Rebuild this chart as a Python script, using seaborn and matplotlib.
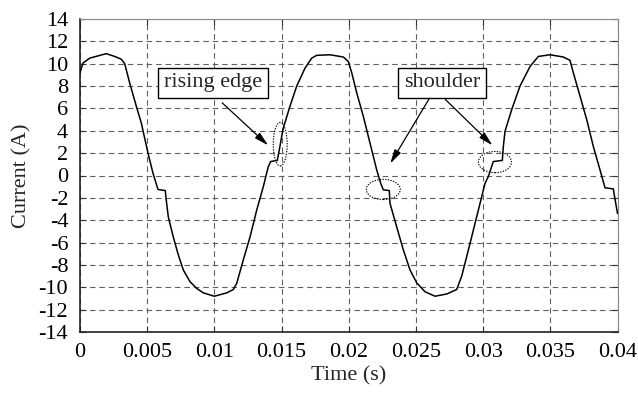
import numpy as np
import pandas as pd
import matplotlib
matplotlib.use("Agg")
import matplotlib.pyplot as plt
from matplotlib.patches import Ellipse
import seaborn as sns

# ---- data ----
time_s = [0.0, 0.000223, 0.000722, 0.00134, 0.001957, 0.002582, 0.003074,
          0.003327, 0.003699, 0.00419, 0.004562, 0.005061, 0.005433,
          0.005805, 0.006348, 0.0064, 0.006571, 0.006943, 0.007316,
          0.007688, 0.008186, 0.008685, 0.009176, 0.009995, 0.010918,
          0.011409, 0.011662, 0.012153, 0.012652, 0.01315, 0.013641,
          0.014013, 0.014192, 0.014683, 0.014832, 0.015011, 0.01513,
          0.015628, 0.016127, 0.016745, 0.017243, 0.017615, 0.018605,
          0.019595, 0.019967, 0.02022, 0.020592, 0.021083, 0.021456,
          0.02208, 0.022378, 0.022572, 0.023018, 0.023071, 0.023569,
          0.024061, 0.024559, 0.025058, 0.025676, 0.026419, 0.02729,
          0.028034, 0.028406, 0.028778, 0.02927, 0.029768, 0.030141,
          0.030386, 0.030758, 0.031428, 0.031503, 0.031629, 0.032128,
          0.032745, 0.033489, 0.034107, 0.034978, 0.035968, 0.036466,
          0.036712, 0.037211, 0.037709, 0.038201, 0.038699, 0.039071,
          0.039689, 0.039741, 0.04]
current_a = [9.2, 10.06, 10.5, 10.7, 10.9, 10.65, 10.4,
             10.0, 8.27, 6.2, 4.7, 2.0, 0.2,
             -1.25, -1.35, -2.0, -3.7, -5.5, -7.1,
             -8.45, -9.5, -10.1, -10.5, -10.8, -10.5,
             -10.2, -9.65, -7.55, -5.5, -3.1, -1.0,
             0.8, 1.25, 1.35, 2.3, 3.5, 4.25,
             6.2, 8.0, 9.6, 10.5, 10.75, 10.8,
             10.6, 10.2, 9.2, 7.4, 5.3, 3.5,
             0.5, -0.7, -1.28, -1.35, -2.5, -4.6,
             -6.65, -8.45, -9.6, -10.4, -10.8, -10.6,
             -10.2, -9.0, -7.25, -4.9, -2.5, -0.7,
             -0.1, 1.25, 1.35, 2.6, 3.95, 5.9,
             8.0, 9.75, 10.65, 10.8, 10.6, 10.3,
             9.2, 7.1, 5.0, 2.6, 0.5, -1.1,
             -1.2, -1.6, -3.4]
x_ticks = [0, 0.005, 0.01, 0.015, 0.02, 0.025, 0.03, 0.035, 0.04]
x_tick_labels = ["0", "0.005", "0.01", "0.015", "0.02", "0.025", "0.03", "0.035", "0.04"]
y_ticks = list(range(-14, 15, 2))
y_tick_labels = [str(v) for v in y_ticks]

df = pd.DataFrame({"Time (s)": time_s, "Current (A)": current_a})

sns.set_theme(style="white")
plt.rcParams["font.family"] = ["Liberation Serif", "DejaVu Serif"]
plt.rcParams["axes.unicode_minus"] = False

fig = plt.figure(figsize=(6.38, 3.94), dpi=100)
ax = fig.add_axes([80 / 638, 1 - 332 / 394, 537.5 / 638, 313 / 394])

sns.lineplot(data=df, x="Time (s)", y="Current (A)", ax=ax, color="black",
             linewidth=1.1, zorder=3)

ax.set_xlim(0, 0.04)
ax.set_ylim(-14, 14)
ax.set_xticks(x_ticks)
ax.set_xticklabels(x_tick_labels)
ax.set_yticks(y_ticks)
ax.set_yticklabels(y_tick_labels)
ax.grid(True, color="#606060", linestyle=(0, (5, 3.5)), linewidth=0.8)
ax.tick_params(direction="in", length=4, width=0.8, colors="#333333",
               labelcolor="black", labelsize=16, top=True, right=True,
               bottom=True, left=True)
ax.tick_params(axis="y", pad=8.5)
ax.tick_params(axis="x", pad=8)
for s in ["left", "bottom"]:
    ax.spines[s].set_color("#222222")
    ax.spines[s].set_linewidth(1.2)
for s in ["top", "right"]:
    ax.spines[s].set_color("#888888")
    ax.spines[s].set_linewidth(0.8)

ax.set_xlabel("Time (s)", fontsize=16, labelpad=3)
ax.set_ylabel("Current (A)", fontsize=16, labelpad=5)

# dotted ellipses
for (cx, cy, w, h) in [(0.0149, 2.8, 0.00104, 3.9),
                       (0.02257, -1.25, 0.00253, 1.8),
                       (0.03088, 1.2, 0.00246, 1.9)]:
    ax.add_patch(Ellipse((cx, cy), w, h, fill=False, edgecolor="black",
                         linestyle=(0, (1.2, 1.2)), linewidth=0.8, zorder=4))

bbox = dict(boxstyle="square,pad=0.25", facecolor="white", edgecolor="black",
            linewidth=1.0)
arrow = dict(arrowstyle="-|>,head_length=0.7,head_width=0.18", color="black",
             linewidth=0.9, shrinkA=0, shrinkB=0)

ax.text(0.0099, 8.3, "rising edge", fontsize=16, ha="center", va="center",
        bbox=bbox, zorder=5)
ax.annotate("", xy=(0.0140, 2.7), xytext=(0.01058, 6.5), arrowprops=arrow, zorder=5)

ax.text(0.02693, 8.3, "shoulder", fontsize=16, ha="center", va="center",
        bbox=bbox, zorder=5)
ax.annotate("", xy=(0.02309, 1.07), xytext=(0.0260, 6.9), arrowprops=arrow, zorder=5)
ax.annotate("", xy=(0.03069, 2.7), xytext=(0.02719, 6.8), arrowprops=arrow, zorder=5)

fig.savefig("out.png", dpi=100)
